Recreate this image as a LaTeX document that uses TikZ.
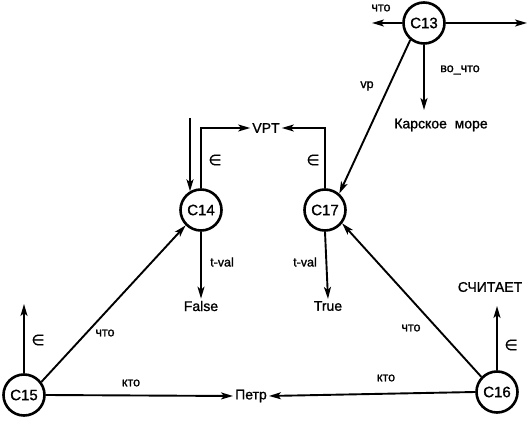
\documentclass[tikz,border=0pt]{standalone}
\usepackage{fontspec}
\setmainfont{Liberation Sans}
\newfontfamily\medium[AutoFakeBold=1.2]{Liberation Sans}
\newfontfamily\symb[AutoFakeBold=0.8]{DejaVu Sans}
\usetikzlibrary{arrows.meta}
\begin{document}
\begin{tikzpicture}[x=1pt,y=-1pt,
  conc/.style={circle,draw,line width=2.6pt,minimum size=41pt,inner sep=0pt,font=\fontsize{15}{15}\selectfont\medium\bfseries},
  term/.style={inner sep=2pt,font=\fontsize{14}{14}\selectfont\medium\bfseries},
  lab/.style={inner sep=0pt,font=\fontsize{12.5}{12.5}\selectfont\medium\bfseries},
  elem/.style={inner sep=0pt,font=\fontsize{15}{15}\selectfont\symb\bfseries},
  link/.style={line width=1.9pt,-{Stealth[length=12pt,width=7pt,inset=3pt]}}]
\useasboundingbox (0,0) rectangle (531,422);
% concept nodes
\node[conc] (C13) at (424,23) {C13};
\node[conc] (C14) at (201,210) {C14};
\node[conc] (C17) at (325,210) {C17};
\node[conc] (C15) at (24,395) {C15};
\node[conc] (C16) at (497,392) {C16};
% terminal texts
\node[term] (VPT) at (266,128) {VPT};
\node[term] (kar) at (441,125) {Карское\ \ море};
\node[term] (false) at (201,306) {False};
\node[term] (true) at (328,306) {True};
\node[term] (petr) at (251,396) {Петр};
\node[term] (sch) at (490,287) {СЧИТАЕТ};
% free ends
\coordinate (c13l) at (372,23);
\coordinate (c13r) at (527,23);
\coordinate (c13d) at (424,110);
\coordinate (in14) at (190,118);
\coordinate (c15u) at (24,304);
\coordinate (c16u) at (497,306);
% connectors
\draw[link] (C13.west) -- (c13l);
\draw[link] (C13.east) -- (c13r);
\draw[link] (C13.south) -- (c13d);
\draw[link] (C13.231) -- (C17.49);
\draw[link] (in14) -- (in14 |- C14.121);
\draw[link] (C14.north) |- (VPT.west);
\draw[link] (C17.north) |- (VPT.east);
\draw[link] (C14.south) -- (false.north);
\draw[link] (C17.south) -- (true.north);
\draw[link] (C15.north) -- (c15u);
\draw[link] (C15.37) -- (C14.225);
\draw[link] (C15.east) -- (petr.west);
\draw[link] (C16.west) -- (petr.east);
\draw[link] (C16.136) -- (C17.322);
\draw[link] (C16.north) -- (c16u);
% labels
\node[lab] at (381,8) {что};
\node[lab] at (367,86) {vp};
\node[lab] at (460,70) {во\_что};
\node[elem] at (215,160) {∈};
\node[elem] at (313,160) {∈};
\node[elem] at (38,340) {∈};
\node[elem] at (511,345) {∈};
\node[lab] at (222,262) {t-val};
\node[lab] at (305,262) {t-val};
\node[lab] at (105,333) {что};
\node[lab] at (131,383) {кто};
\node[lab] at (411,328) {что};
\node[lab] at (386,378) {кто};
\end{tikzpicture}
\end{document}
